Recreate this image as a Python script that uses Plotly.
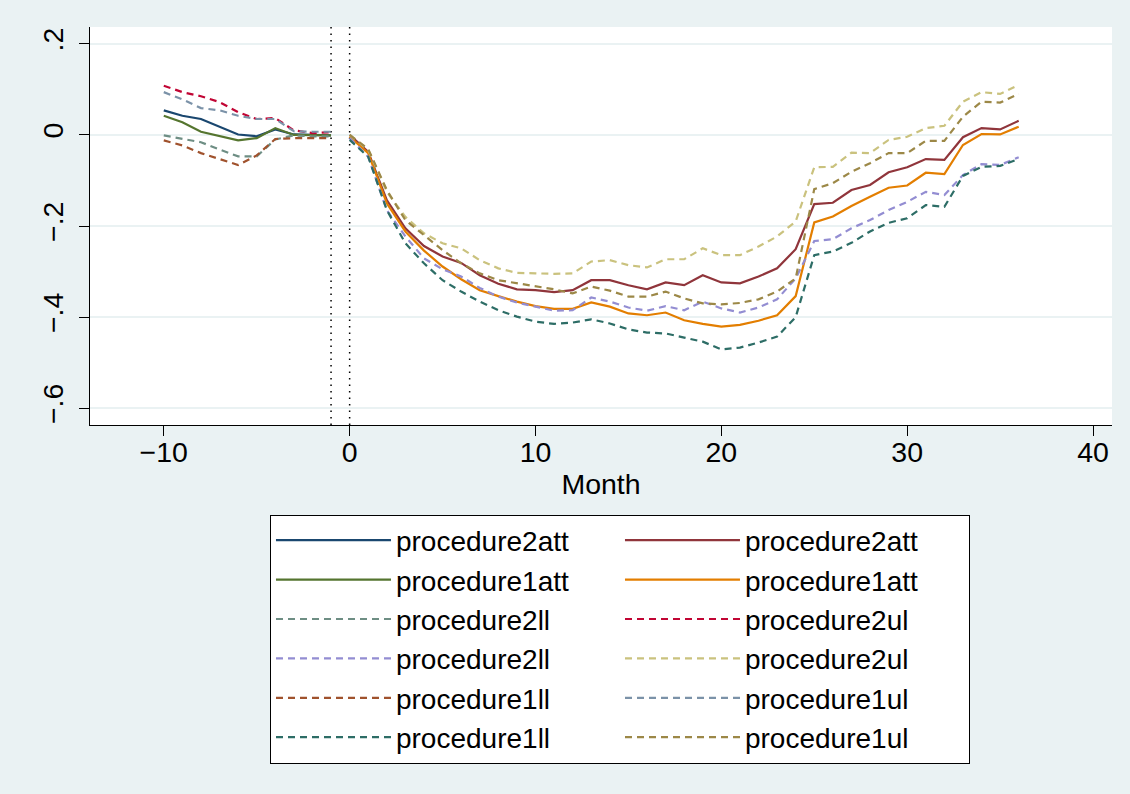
import plotly.graph_objects as go

# ---- data ----
months_pre = [-10, -9, -8, -7, -6, -5, -4, -3, -2, -1]
months_post = list(range(0, 37))

p2att_pre = [0.054, 0.042, 0.035, 0.018, 0.001, -0.003, 0.012, 0.001, 0.000, -0.001]
p1att_pre = [0.042, 0.028, 0.007, -0.003, -0.012, -0.007, 0.015, 0.000, -0.001, -0.001]
p2ll_pre = [-0.001, -0.009, -0.016, -0.032, -0.047, -0.047, -0.010, -0.001, -0.003, -0.003]
p2ul_pre = [0.108, 0.094, 0.085, 0.072, 0.050, 0.035, 0.037, 0.010, 0.004, 0.006]
p1ll_pre = [-0.012, -0.023, -0.040, -0.053, -0.066, -0.045, -0.009, -0.007, -0.007, -0.007]
p1ul_pre = [0.094, 0.078, 0.059, 0.054, 0.042, 0.035, 0.035, 0.008, 0.007, 0.007]

p2att_post = [0.000, -0.037, -0.143, -0.205, -0.244, -0.267, -0.281, -0.308, -0.327, -0.339,
              -0.341, -0.345, -0.341, -0.319, -0.319, -0.330, -0.339, -0.324, -0.330, -0.308,
              -0.324, -0.326, -0.311, -0.293, -0.251, -0.152, -0.149, -0.121, -0.110, -0.082,
              -0.071, -0.053, -0.055, -0.005, 0.015, 0.012, 0.031]
p1att_post = [-0.004, -0.040, -0.150, -0.212, -0.254, -0.289, -0.317, -0.341, -0.354, -0.366,
              -0.376, -0.382, -0.382, -0.368, -0.377, -0.392, -0.396, -0.390, -0.407, -0.415,
              -0.421, -0.417, -0.408, -0.396, -0.354, -0.192, -0.179, -0.156, -0.136, -0.116,
              -0.111, -0.083, -0.086, -0.022, 0.002, 0.001, 0.018]
p2ll_post = [-0.007, -0.048, -0.165, -0.223, -0.271, -0.295, -0.311, -0.336, -0.355, -0.368,
             -0.377, -0.386, -0.385, -0.357, -0.366, -0.379, -0.386, -0.376, -0.385, -0.366,
             -0.381, -0.390, -0.379, -0.361, -0.315, -0.233, -0.229, -0.205, -0.187, -0.165,
             -0.147, -0.125, -0.132, -0.088, -0.064, -0.066, -0.049]
p2ul_post = [0.000, -0.033, -0.125, -0.180, -0.216, -0.238, -0.249, -0.275, -0.293, -0.303,
             -0.304, -0.305, -0.304, -0.278, -0.275, -0.286, -0.291, -0.273, -0.273, -0.249,
             -0.264, -0.264, -0.245, -0.223, -0.190, -0.071, -0.070, -0.039, -0.040, -0.011,
             -0.004, 0.015, 0.020, 0.073, 0.094, 0.090, 0.110]
p1ll_post = [-0.011, -0.048, -0.165, -0.238, -0.282, -0.319, -0.344, -0.366, -0.385, -0.399,
             -0.410, -0.415, -0.412, -0.405, -0.414, -0.427, -0.434, -0.436, -0.445, -0.454,
             -0.471, -0.467, -0.456, -0.443, -0.400, -0.264, -0.256, -0.237, -0.212, -0.193,
             -0.183, -0.154, -0.158, -0.090, -0.070, -0.068, -0.053]
p1ul_post = [0.000, -0.031, -0.121, -0.187, -0.220, -0.253, -0.282, -0.304, -0.319, -0.326,
             -0.333, -0.339, -0.348, -0.333, -0.342, -0.355, -0.355, -0.344, -0.359, -0.370,
             -0.372, -0.369, -0.361, -0.344, -0.315, -0.119, -0.106, -0.081, -0.062, -0.040,
             -0.040, -0.013, -0.013, 0.040, 0.073, 0.071, 0.090]

x_ticks = [-10, 0, 10, 20, 30, 40]
x_ticktext = ["\u221210", "0", "10", "20", "30", "40"]
y_ticks = [-0.6, -0.4, -0.2, 0, 0.2]
y_ticktext = ["\u2212.6", "\u2212.4", "\u2212.2", "0", ".2"]

FONT = "Liberation Sans, Arial, sans-serif"
DASH = "7px,5px"

series = [
    ("procedure2att", months_pre, p2att_pre, "#1a476f", "solid"),
    ("procedure2att", months_post, p2att_post, "#90353b", "solid"),
    ("procedure1att", months_pre, p1att_pre, "#55752f", "solid"),
    ("procedure1att", months_post, p1att_post, "#e37e00", "solid"),
    ("procedure2ll", months_pre, p2ll_pre, "#6e8e84", DASH),
    ("procedure2ul", months_pre, p2ul_pre, "#c10534", DASH),
    ("procedure2ll", months_post, p2ll_post, "#938dd2", DASH),
    ("procedure2ul", months_post, p2ul_post, "#cac27e", DASH),
    ("procedure1ll", months_pre, p1ll_pre, "#a0522d", DASH),
    ("procedure1ul", months_pre, p1ul_pre, "#7b92a8", DASH),
    ("procedure1ll", months_post, p1ll_post, "#2d6d66", DASH),
    ("procedure1ul", months_post, p1ul_post, "#9c8847", DASH),
]

fig = go.Figure()

for name, xs, ys, color, dash in series:
    fig.add_trace(go.Scatter(x=xs, y=ys, mode="lines", name=name,
                             line=dict(color=color, width=2.2, dash=dash)))

# reference lines
fig.add_hline(y=0, line=dict(color="black", width=1.6), layer="below")
for xv in (-1, 0):
    fig.add_vline(x=xv, line=dict(color="black", width=1.5, dash="1.5px,5px"), layer="below")

fig.update_layout(
    width=1130, height=794,
    margin=dict(l=90, r=18, t=27, b=369),
    paper_bgcolor="#eaf2f3",
    plot_bgcolor="white",
    font=dict(family=FONT, size=28.5, color="black"),
    showlegend=True,
    legend=dict(
        orientation="h",
        x=0.1761, xanchor="left",
        y=-0.2249, yanchor="top",
        bgcolor="white", bordercolor="black", borderwidth=1,
        font=dict(family=FONT, size=28, color="black"),
        entrywidth=219, entrywidthmode="pixels",
        itemwidth=115,
        traceorder="normal",
    ),
)

fig.update_xaxes(
    range=[-13.97, 41.02],
    tickvals=x_ticks, ticktext=x_ticktext,
    ticks="outside", ticklen=10, tickwidth=1, tickcolor="black",
    showline=True, linecolor="black", linewidth=1,
    showgrid=False, zeroline=False,
    title=dict(text="Month", font=dict(size=28.5), standoff=6),
    tickfont=dict(size=28.5),
    ticklabelstandoff=-8,
)
fig.update_yaxes(
    range=[-0.637, 0.237],
    tickvals=y_ticks, ticktext=y_ticktext,
    tickangle=-90,
    ticks="outside", ticklen=10, tickwidth=1, tickcolor="black",
    showline=True, linecolor="black", linewidth=1,
    showgrid=True, gridcolor="#eaf2f3", gridwidth=2,
    zeroline=False,
    tickfont=dict(size=28.5),
    ticklabelstandoff=5,
)

fig.write_html("out.html")
